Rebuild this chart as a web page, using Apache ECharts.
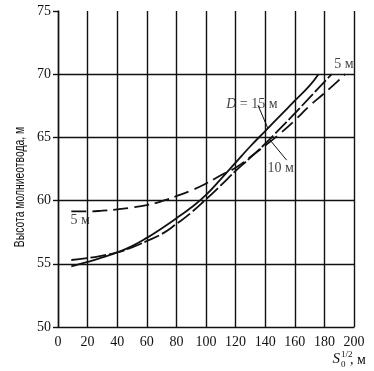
<!DOCTYPE html>
<html><head><meta charset="utf-8">
<script src="https://cdn.jsdelivr.net/npm/echarts@6/dist/echarts.min.js"></script>
<style>html,body{margin:0;padding:0;background:#fff}#c{width:374px;height:371px}</style>
</head><body><div id="c"></div>
<script>
// Data
var x15 = [9, 20, 30, 40, 50, 60, 70, 80, 90, 100, 110, 120, 130, 140, 150, 160, 170, 176];
var y15 = [54.8, 55.15, 55.5, 55.9, 56.4, 57.05, 57.8, 58.6, 59.45, 60.45, 61.7, 63.0, 64.3, 65.5, 66.7, 67.9, 69.1, 70.0];
var x10 = [9, 20, 30, 40, 50, 60, 70, 80, 90, 100, 110, 120, 130, 140, 150, 160, 170, 180, 185];
var y10 = [55.3, 55.45, 55.65, 55.9, 56.3, 56.8, 57.35, 58.15, 59.05, 60.1, 61.2, 62.35, 63.4, 64.5, 65.7, 66.9, 68.15, 69.4, 70.0];
var x5 = [9, 20, 30, 40, 50, 60, 70, 80, 90, 100, 110, 120, 130, 140, 150, 160, 170, 180, 190, 194];
var y5 = [59.15, 59.15, 59.2, 59.3, 59.45, 59.65, 59.95, 60.35, 60.8, 61.35, 62.0, 62.6, 63.45, 64.35, 65.3, 66.35, 67.5, 68.5, 69.55, 70.0];
var xTicks = [0, 20, 40, 60, 80, 100, 120, 140, 160, 180, 200];
var yTicks = [50, 55, 60, 65, 70, 75];
var hGrid = [55, 60, 65, 70];
var yName = 'Высота молниеотвода, м';
var labels = [
  {x: 131, y: 67.6, text: '{i|D} = 15 м'},
  {x: 150.5, y: 62.55, text: '10 м'},
  {x: 193.2, y: 70.75, text: '5 м'},
  {x: 15, y: 58.45, text: '5 м'}
];
var pointers = [
  [[135.1, 67.55], [141.7, 65.75]],
  [[154.5, 63.2], [143.2, 64.8]]
];

function zip(a, b) { return a.map(function (v, i) { return [v, b[i]]; }); }
var FONT = 'Liberation Serif';
var chart = echarts.init(document.getElementById('c'));
var series = [
  {type: 'line', data: zip(x15, y15), smooth: true, symbol: 'none',
   lineStyle: {color: '#111', width: 1.8},
   markLine: {silent: true, symbol: 'none', label: {show: false},
     lineStyle: {color: '#111', width: 1.4, type: 'solid'},
     data: hGrid.map(function (v) { return {yAxis: v}; })}},
  {type: 'line', data: zip(x10, y10), smooth: true, symbol: 'none',
   lineStyle: {color: '#111', width: 1.8, type: [16, 3]}},
  {type: 'line', data: zip(x5, y5), smooth: true, symbol: 'none',
   lineStyle: {color: '#111', width: 1.8, type: [15, 6]}},
  {type: 'scatter', symbolSize: 0, silent: true,
   data: labels.map(function (l) { return [l.x, l.y, l.text]; }),
   label: {show: true, position: 'inside', color: '#111', fontFamily: FONT, fontSize: 14,
     formatter: function (p) { return p.data[2]; },
     rich: {i: {fontStyle: 'italic', fontFamily: FONT, fontSize: 14, color: '#111'}}}}
];
pointers.forEach(function (p) {
  series.push({type: 'line', data: p, symbol: 'none', silent: true,
    lineStyle: {color: '#111', width: 1}});
});

chart.setOption({
  animation: false,
  backgroundColor: '#fff',
  grid: {left: 58, right: 20, top: 11, bottom: 44},
  xAxis: {type: 'value', min: 0, max: 200, interval: 20,
    axisLine: {show: true, lineStyle: {color: '#111', width: 1.4}},
    axisTick: {show: false},
    splitLine: {show: true, lineStyle: {color: '#111', width: 1.4}},
    axisLabel: {color: '#111', fontFamily: FONT, fontSize: 14, margin: 8,
      formatter: function (v) { return xTicks.indexOf(v) >= 0 ? String(v) : ''; }}},
  yAxis: {type: 'value', min: 50, max: 75, interval: 5,
    axisLine: {show: true, lineStyle: {color: '#111', width: 1.4}},
    axisTick: {show: true, length: 5, lineStyle: {color: '#111', width: 1.4}},
    splitLine: {show: false},
    axisLabel: {color: '#111', fontFamily: FONT, fontSize: 14, margin: 7,
      formatter: function (v) { return yTicks.indexOf(v) >= 0 ? String(v) : ''; }}},
  graphic: [
    {type: 'text', x: 20, y: 187, rotation: Math.PI / 2, scaleX: 0.74,
     style: {text: yName, font: '14px "Liberation Sans"', fill: '#111', align: 'center', verticalAlign: 'middle'}},
    {type: 'text', right: 34, bottom: 4, style: {text: 'S', font: 'italic 15px "Liberation Serif"', fill: '#111'}},
    {type: 'text', left: 341, bottom: 12, style: {text: '1/2', font: '9px "Liberation Serif"', fill: '#111'}},
    {type: 'text', left: 341, bottom: 2, style: {text: '0', font: '9px "Liberation Serif"', fill: '#111'}},
    {type: 'text', left: 350, bottom: 4, style: {text: ', м', font: '14px "Liberation Serif"', fill: '#111'}}
  ],
  series: series
});
</script></body></html>
